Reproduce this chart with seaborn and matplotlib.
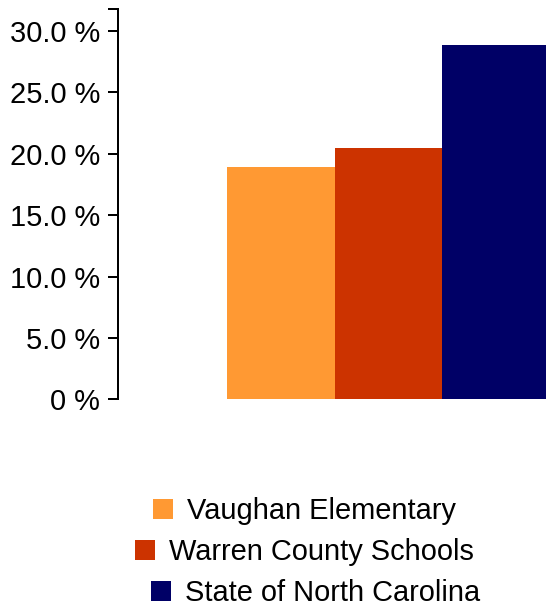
from __future__ import annotations

import matplotlib

matplotlib.use("Agg")

import matplotlib.pyplot as plt
import pandas as pd
import seaborn as sns
from matplotlib.ticker import FuncFormatter

schools = ["Vaughan Elementary", "Warren County Schools", "State of North Carolina"]
percent = [18.9, 20.5, 28.9]
colors = ["#FF9933", "#CC3300", "#000066"]
y_ticks = [0, 5, 10, 15, 20, 25, 30]
y_max = 31.8

sns.set_style("white")
plt.rcParams["font.family"] = ["Liberation Sans", "DejaVu Sans"]

df = pd.DataFrame({"school": schools, "pct": percent})

fig = plt.figure(figsize=(5.46, 6.11), dpi=100)
ax = fig.add_axes([0.2161, 0.3462, 0.7839, 0.6391])

sns.barplot(data=df, x="school", y="pct", hue="school", palette=colors,
            width=1.0, saturation=1, legend=False, linewidth=0, ax=ax)

ax.set_xlim(-1.514, 2.467)
ax.set_ylim(0, y_max)
ax.set_yticks(y_ticks)
ax.set_yticks([y_max], minor=True)
ax.yaxis.set_major_formatter(FuncFormatter(lambda v, _: "0 %" if v == 0 else f"{v:.1f} %"))
ax.tick_params(axis="y", which="both", left=True, length=7.2, width=1.44,
               color="black", labelsize=20.9, labelcolor="black", pad=5.8)
ax.tick_params(axis="x", bottom=False, labelbottom=False)
ax.set_xlabel("")
ax.set_ylabel("")
for side in ["top", "right", "bottom"]:
    ax.spines[side].set_visible(False)
ax.spines["left"].set_color("black")
ax.spines["left"].set_linewidth(1.44)

# one centred legend row per school
rows = [(0.280, 0.1637), (0.247, 0.0966), (0.277, 0.0295)]
for bar, name, (lx, ly) in zip(ax.patches, schools, rows):
    leg = fig.legend([bar], [name], loc="center left", bbox_to_anchor=(lx, ly),
                     frameon=False, fontsize=20.9, borderpad=0, borderaxespad=0,
                     handlelength=0.69, handleheight=0.69, handletextpad=0.48)
    for t in leg.get_texts():
        t.set_color("black")

fig.savefig("out.png", dpi=100)
plt.close(fig)
